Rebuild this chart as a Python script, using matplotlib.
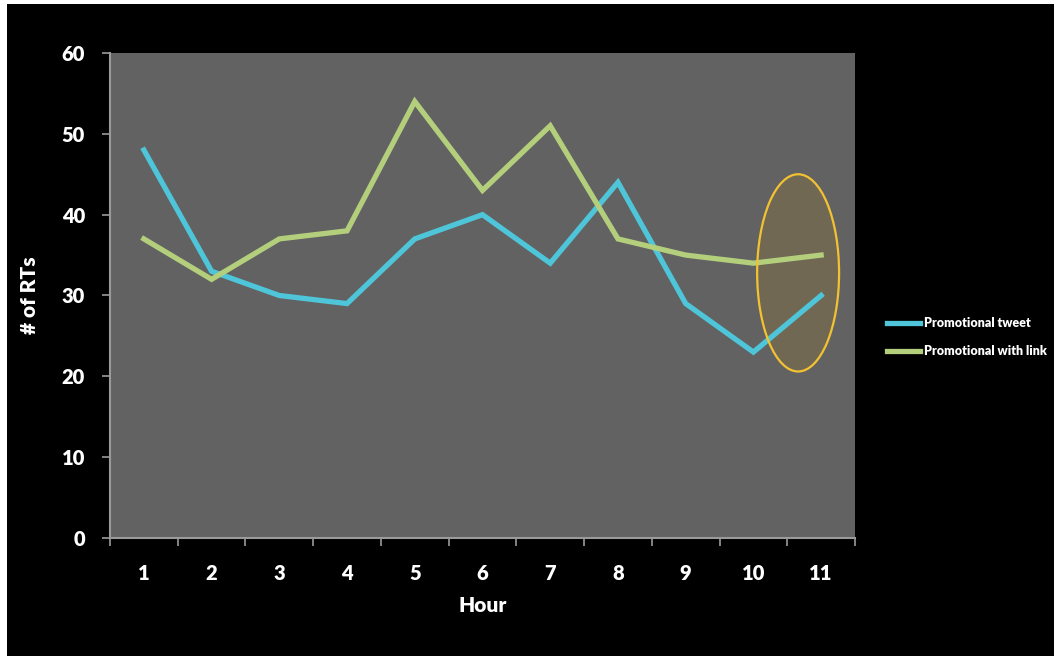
import matplotlib
matplotlib.use("Agg")
import matplotlib.pyplot as plt
from matplotlib.patches import Rectangle, Ellipse

hours = [1, 2, 3, 4, 5, 6, 7, 8, 9, 10, 11]
promo_tweet = [48, 33, 30, 29, 37, 40, 34, 44, 29, 23, 30]
promo_link = [37, 32, 37, 38, 54, 43, 51, 37, 35, 34, 35]
y_ticks = [0, 10, 20, 30, 40, 50, 60]

W, H = 1054, 656
fig = plt.figure(figsize=(W / 100, H / 100), dpi=100)
fig.patch.set_facecolor("white")
fig.add_artist(Rectangle((7 / W, 0), 1 - 7 / W, 1 - 4 / H, transform=fig.transFigure,
                         facecolor="black", edgecolor="none", zorder=0))

ax = fig.add_axes([110 / W, 1 - 538 / H, (855 - 110) / W, (538 - 53) / H])
ax.set_facecolor("#626262")

font = "Lato"
ax.plot(hours, promo_tweet, color="#4ec5d8", lw=3.8, solid_joinstyle="miter",
        label="Promotional tweet", zorder=3)
ax.plot(hours, promo_link, color="#b4cf7c", lw=3.8, solid_joinstyle="miter",
        label="Promotional with link", zorder=3)

# highlight around the last hour
ax.add_patch(Ellipse((10.66, 32.8), 1.21, 24.4, facecolor="#716854",
                     edgecolor="none", zorder=2))
ax.add_patch(Ellipse((10.66, 32.8), 1.21, 24.4, facecolor="none",
                     edgecolor="#f2c232", lw=1.6, zorder=4))

ax.set_xlim(0.5, 11.5)
ax.set_ylim(0, 60)
ax.set_yticks(y_ticks)
ax.set_xticks(hours)
ax.set_xticks([h + 0.5 for h in [0] + hours], minor=True)
ax.tick_params(axis="x", which="major", length=0, pad=19)
ax.tick_params(axis="x", which="minor", length=6, color="#9a9a9a", width=1.2)
ax.tick_params(axis="y", length=6, color="#9a9a9a", width=1.2, pad=12)
for lab in ax.get_xticklabels() + ax.get_yticklabels():
    lab.set_fontfamily(font)
    lab.set_fontweight("heavy")
    lab.set_fontsize(14.5)
    lab.set_color("white")

for side in ["top", "right"]:
    ax.spines[side].set_visible(False)
for side in ["left", "bottom"]:
    ax.spines[side].set_color("#9a9a9a")
    ax.spines[side].set_linewidth(1.5)

ax.set_xlabel("Hour", fontfamily=font, fontweight="heavy", fontsize=15,
              color="white", labelpad=9)
ax.set_ylabel("# of RTs", fontfamily=font, fontweight="heavy", fontsize=15,
              color="white", labelpad=16)

leg = fig.legend(loc="upper left", bbox_to_anchor=(876 / W, 1 - 306 / H),
                 frameon=False, prop={"family": font, "weight": "heavy", "size": 9.0},
                 handlelength=2.6, handletextpad=0.3, labelspacing=1.25)
for t in leg.get_texts():
    t.set_color("white")

fig.savefig("out.png", dpi=100, facecolor=fig.get_facecolor())
